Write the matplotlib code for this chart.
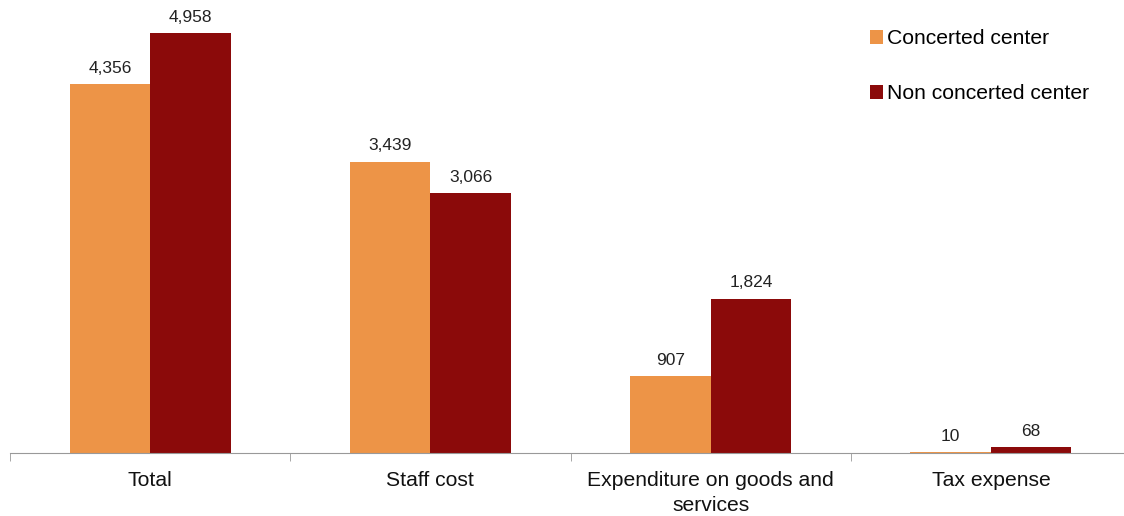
import matplotlib.pyplot as plt
import numpy as np

categories = ["Total", "Staff cost", "Expenditure on goods and\nservices", "Tax expense"]
concerted = [4356, 3439, 907, 10]
non_concerted = [4958, 3066, 1824, 68]
series_names = ["Concerted center", "Non concerted center"]
colors = ["#ED9447", "#8B0A0A"]

plt.rcParams["font.family"] = ["Liberation Sans", "DejaVu Sans"]

fig = plt.figure(figsize=(11.24, 5.16), dpi=100)
ax = fig.add_axes([10 / 1124, 63 / 516, 1121 / 1124, 453 / 516])

x = np.arange(len(categories))
w = 0.287
b1 = ax.bar(x - w / 2, concerted, w, color=colors[0], label=series_names[0])
b2 = ax.bar(x + w / 2, non_concerted, w, color=colors[1], label=series_names[1])

for bars, vals in ((b1, concerted), (b2, non_concerted)):
    for bar, v in zip(bars, vals):
        ax.annotate(f"{v:,}", (bar.get_x() + bar.get_width() / 2, bar.get_height()),
                    xytext=(0, 6), textcoords="offset points",
                    ha="center", va="bottom", fontsize=12.5, color="#222222")

ax.set_xlim(-0.5, len(categories) - 0.5)
ax.set_ylim(0, 5350)
ax.set_yticks([])
for s in ("top", "right", "left"):
    ax.spines[s].set_visible(False)
ax.spines["bottom"].set_color("#999999")

ax.set_xticks(x)
ax.set_xticklabels(categories, fontsize=15.2, color="#111111", linespacing=1.4)
ax.tick_params(axis="x", which="major", length=0, pad=13)
ax.set_xticks(np.arange(len(categories) + 1) - 0.5, minor=True)
ax.tick_params(axis="x", which="minor", length=6, color="#999999")

fig.legend(loc="upper left", bbox_to_anchor=(862 / 1124, 1 - 21 / 516),
           frameon=False, fontsize=15.2, handlelength=0.6, handleheight=0.6,
           handletextpad=0.2, labelspacing=1.7, borderaxespad=0)

fig.savefig("out.png")
